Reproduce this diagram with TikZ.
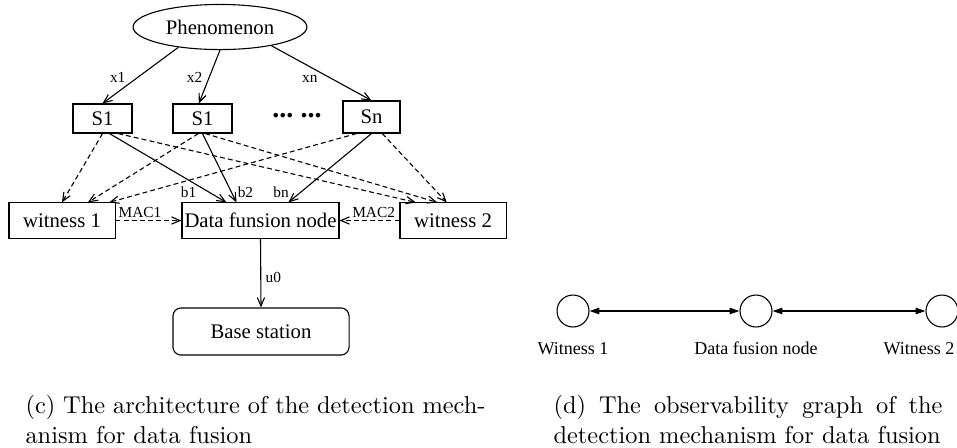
\documentclass[tikz,border=0pt]{standalone}
\usepackage{fontspec}
\newfontfamily\tnr{Liberation Serif}
\usepackage{tikz}
\usetikzlibrary{positioning,shapes,arrows.meta}

\tikzset{
  box/.style={draw, rectangle, inner sep=0pt, font=\tnr\fontsize{8.5}{10}\selectfont},
  lbl/.style={inner sep=1pt, font=\tnr\fontsize{6.3}{7}\selectfont},
  arr/.style={-{Straight Barb[length=3.5pt,width=3pt]}},
  darr/.style={arr, dash pattern=on 2pt off 1.3pt},
  circ/.style={draw, circle, minimum size=13.1pt, inner sep=0pt},
  glbl/.style={inner sep=0pt, anchor=base, font=\tnr\fontsize{7.4}{9}\selectfont},
  dbl/.style={{Triangle[length=4pt,width=2.6pt]}-{Triangle[length=4pt,width=2.6pt]}},
  captext/.style={inner sep=0pt, anchor=base west, font=\fontsize{10}{12}\selectfont},
}

\begin{document}
\begin{tikzpicture}[x=0.41pt,y=-0.41pt,line width=0.45pt]
\useasboundingbox (0,0) rectangle (957,447);

% (c) architecture
\node[box,ellipse,minimum width=71.3pt,minimum height=18.5pt] (phen) at (220,27) {Phenomenon};
\node[box,minimum width=24.2pt,minimum height=11.9pt] (s1) at (102.5,118.5) {S1};
\node[box,minimum width=24.2pt,minimum height=11.9pt] (s2) at (202.5,118.5) {S1};
\node[box,minimum width=23.4pt,minimum height=13.1pt] (sn) at (371.5,117) {Sn};
\node[inner sep=0pt,font=\tnr\fontsize{11.5}{12}\bfseries] (dots) at (297,116) {...\hspace{3pt}...};
\node[box,minimum width=43.5pt,minimum height=14.4pt] (wit1) at (62,220.5) {witness 1};
\node[box,minimum width=64.4pt,minimum height=14.4pt] (dfn) at (260.5,220.5) {Data funsion node};
\node[box,minimum width=43.5pt,minimum height=14.4pt] (wit2) at (453,220.5) {witness 2};
\node[box,rounded corners=3.3pt,minimum width=72.2pt,minimum height=19.3pt] (base) at (261,331.5) {Base station};

\draw[arr] (phen.206) -- node[lbl,pos=.53,left=4pt] {x1} (s1.north);
\draw[arr] (phen.south) -- node[lbl,pos=.52,left=1.5pt] {x2} ([xshift=-1.5pt]s2.north);
\draw[arr] (phen.340) -- node[lbl,pos=.6,left=4.5pt] {xn} (sn.north);

\draw[arr] (s1.-65) -- node[lbl,pos=.857,left=4.3pt] {b1} (dfn.152);
\draw[arr] (s2.south) -- node[lbl,pos=.857,right=1.3pt] {b2} (dfn.143);
\draw[arr] (sn.south) -- node[lbl,pos=.857,left=3.5pt] {bn} (dfn.33);

\draw[darr] (s1.south) -- (wit1.north);
\draw[darr] (s2.-105) -- (wit1.35);
\draw[darr] (sn.228) -- (wit1.21);
\draw[darr] (s1.-44) -- (wit2.154);
\draw[darr] (s2.-80) -- (wit2.131);
\draw[darr] (sn.-57) -- (wit2.109);

\draw[darr] (wit1.east) -- node[lbl,pos=.37,above=0pt] {MAC1} (dfn.west);
\draw[darr] (wit2.west) -- node[lbl,pos=.43,above=0pt] {MAC2} (dfn.east);
\draw[arr] (dfn.south) -- node[lbl,pos=.57,right=.8pt] {u0} (base.north);

% (d) observability graph
\node[circ] (c1) at (573,311) {};
\node[circ] (c2) at (756,311) {};
\node[circ] (c3) at (942,311) {};
\draw[dbl] (c1) -- (c2);
\draw[dbl] (c2) -- (c3);
\node[glbl] (l1) at (573,354) {Witness 1};
\node[glbl] (l2) at (756,354) {Data fusion node};
\node[glbl] (l3) at (919,354) {Witness 2};

% captions
\node[captext] (capc1) at (25,413) {\hbox to 188.6pt{(c) The architecture of the detection mech-}};
\node[captext] (capc2) at (25,443) {anism for data fusion};
\node[captext] (capd1) at (553,413) {\hbox to 159.5pt{(d) The observability graph of the}};
\node[captext] (capd2) at (553,443) {detection mechanism for data fusion};
\end{tikzpicture}
\end{document}
